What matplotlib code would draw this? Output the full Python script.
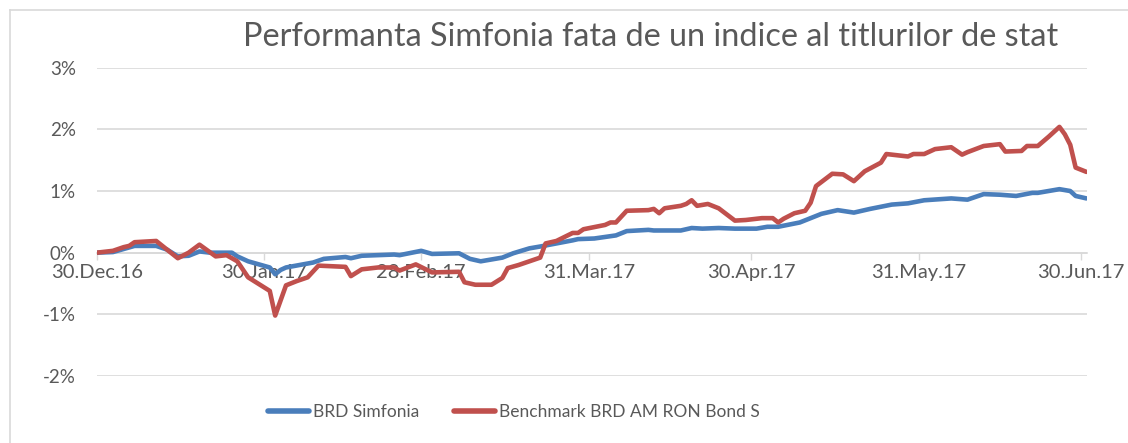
import pandas as pd
import matplotlib
matplotlib.use("Agg")
import matplotlib.pyplot as plt
from matplotlib.lines import Line2D

plt.rcParams["font.family"] = ["Lato", "DejaVu Sans"]

# zile de la 30.Dec.16 si performanta (%)
start = pd.Timestamp("2016-12-30")

zile_simfonia = [0, 3, 5, 7, 11, 13, 15, 17, 19, 21, 25, 26, 28, 32, 33, 34, 35, 40, 42,
                 46, 47, 49, 55, 56, 60, 62, 67, 69, 71, 73, 75, 77, 80, 82, 85, 88, 89,
                 92, 96, 98, 102, 103, 108, 110, 112, 115, 118, 122, 124, 126, 130, 132,
                 134, 137, 140, 143, 147, 150, 153, 158, 161, 164, 167, 170, 173, 174,
                 178, 180, 181, 183]
simfonia = [0.00, 0.01, 0.06, 0.11, 0.11, 0.05, -0.06, -0.05, 0.02, 0.00, 0.00, -0.06,
            -0.14, -0.24, -0.35, -0.28, -0.24, -0.16, -0.10, -0.07, -0.09, -0.05, -0.03,
            -0.04, 0.03, -0.02, -0.01, -0.10, -0.14, -0.11, -0.08, -0.01, 0.07, 0.10,
            0.15, 0.20, 0.22, 0.23, 0.28, 0.35, 0.37, 0.36, 0.36, 0.40, 0.39, 0.40, 0.39,
            0.39, 0.42, 0.42, 0.49, 0.56, 0.63, 0.69, 0.65, 0.71, 0.78, 0.80, 0.85, 0.88,
            0.86, 0.95, 0.94, 0.92, 0.97, 0.97, 1.03, 1.00, 0.92, 0.88]

zile_benchmark = [0, 3, 5, 6, 7, 11, 13, 15, 17, 19, 22, 24, 26, 28, 30, 32, 33, 35, 37,
                  39, 41, 46, 47, 49, 52, 55, 56, 59, 62, 67, 68, 70, 73, 75, 76, 78, 81,
                  82, 83, 85, 88, 89, 90, 94, 95, 96, 98, 102, 103, 104, 105, 108, 109,
                  110, 111, 113, 115, 118, 120, 123, 125, 126, 127, 129, 131, 132, 133,
                  136, 138, 140, 142, 145, 146, 148, 150, 151, 153, 155, 158, 160, 161,
                  164, 167, 168, 171, 172, 174, 176, 178, 179, 180, 181, 183]
benchmark = [0.00, 0.03, 0.09, 0.11, 0.17, 0.19, 0.05, -0.09, 0.00, 0.13, -0.06, -0.04,
             -0.14, -0.40, -0.51, -0.62, -1.02, -0.53, -0.46, -0.40, -0.21, -0.23, -0.38,
             -0.27, -0.24, -0.24, -0.29, -0.19, -0.32, -0.31, -0.48, -0.52, -0.52, -0.41,
             -0.25, -0.20, -0.11, -0.08, 0.15, 0.19, 0.32, 0.32, 0.38, 0.45, 0.49, 0.49,
             0.68, 0.69, 0.71, 0.64, 0.72, 0.76, 0.79, 0.85, 0.76, 0.79, 0.72, 0.52, 0.53,
             0.56, 0.56, 0.49, 0.55, 0.64, 0.68, 0.81, 1.08, 1.28, 1.27, 1.16, 1.32, 1.46,
             1.60, 1.58, 1.56, 1.60, 1.60, 1.68, 1.71, 1.59, 1.63, 1.73, 1.76, 1.64, 1.65,
             1.73, 1.73, 1.88, 2.04, 1.92, 1.75, 1.38, 1.31]

etichete_date = ["2016-12-30", "2017-01-30", "2017-02-28", "2017-03-31",
                 "2017-04-30", "2017-05-31", "2017-06-30"]
etichete_x = ["30.Dec.16", "30.Jan.17", "28.Feb.17", "31.Mar.17",
              "30.Apr.17", "31.May.17", "30.Jun.17"]
valori_y = [-2, -1, 0, 1, 2, 3]
etichete_y = ["-2%", "-1%", "0%", "1%", "2%", "3%"]

ALBASTRU = "#4A7EBB"
ROSU = "#C0504D"
GRI_TEXT = "#595959"
GRI_LINIE = "#D9D9D9"

W, H = 1128, 443
fig = plt.figure(figsize=(W / 100, H / 100), dpi=100)
ax = fig.add_axes([96.7 / W, 1 - 376 / H, (1087 - 96.7) / W, (376 - 67.7) / H])

d_sim = start + pd.to_timedelta(zile_simfonia, unit="D")
d_ben = start + pd.to_timedelta(zile_benchmark, unit="D")

ax.plot(d_sim, simfonia, color=ALBASTRU, lw=3.3, solid_joinstyle="round",
        solid_capstyle="round", label="BRD Simfonia", zorder=3)
ax.plot(d_ben, benchmark, color=ROSU, lw=3.3, solid_joinstyle="round",
        solid_capstyle="round", label="Benchmark BRD AM RON Bond S", zorder=4)

ax.set_ylim(-2, 3)
ax.set_xlim(start, start + pd.Timedelta(days=183.1))
ax.set_yticks(valori_y)
ax.set_yticklabels(etichete_y)
ax.grid(axis="y", color=GRI_LINIE, lw=1.2)
ax.set_axisbelow(True)

for s in ["top", "right", "left"]:
    ax.spines[s].set_visible(False)
ax.spines["bottom"].set_position(("data", 0))
ax.spines["bottom"].set_color(GRI_LINIE)
ax.spines["bottom"].set_linewidth(1.2)

ax.set_xticks(pd.to_datetime(etichete_date))
ax.set_xticklabels(etichete_x)
ax.tick_params(axis="x", length=5, width=1, color=GRI_LINIE, direction="out",
               labelsize=14.5, labelcolor=GRI_TEXT, pad=3)
ax.tick_params(axis="y", length=0, labelsize=13.5, labelcolor=GRI_TEXT, pad=15)

fig.text(651 / W, 1 - 37 / H, "Performanta Simfonia fata de un indice al titlurilor de stat",
         ha="center", va="center", fontsize=23.3, color=GRI_TEXT)

leg = fig.legend(loc="center", bbox_to_anchor=(514 / W, 1 - 412 / H), ncol=2,
                 frameon=False, fontsize=12.5, handlelength=2.36, handletextpad=0.23,
                 columnspacing=2.0)
for t in leg.get_texts():
    t.set_color(GRI_TEXT)
for h in leg.legend_handles:
    h.set_linewidth(4)

# chenarul graficului
fig.add_artist(Line2D([10 / W, 1], [1 - 10 / H, 1 - 10 / H], color=GRI_LINIE, lw=1.2))
fig.add_artist(Line2D([10 / W, 10 / W], [0, 1 - 10 / H], color=GRI_LINIE, lw=1.2))

fig.savefig("out.png", dpi=100)
